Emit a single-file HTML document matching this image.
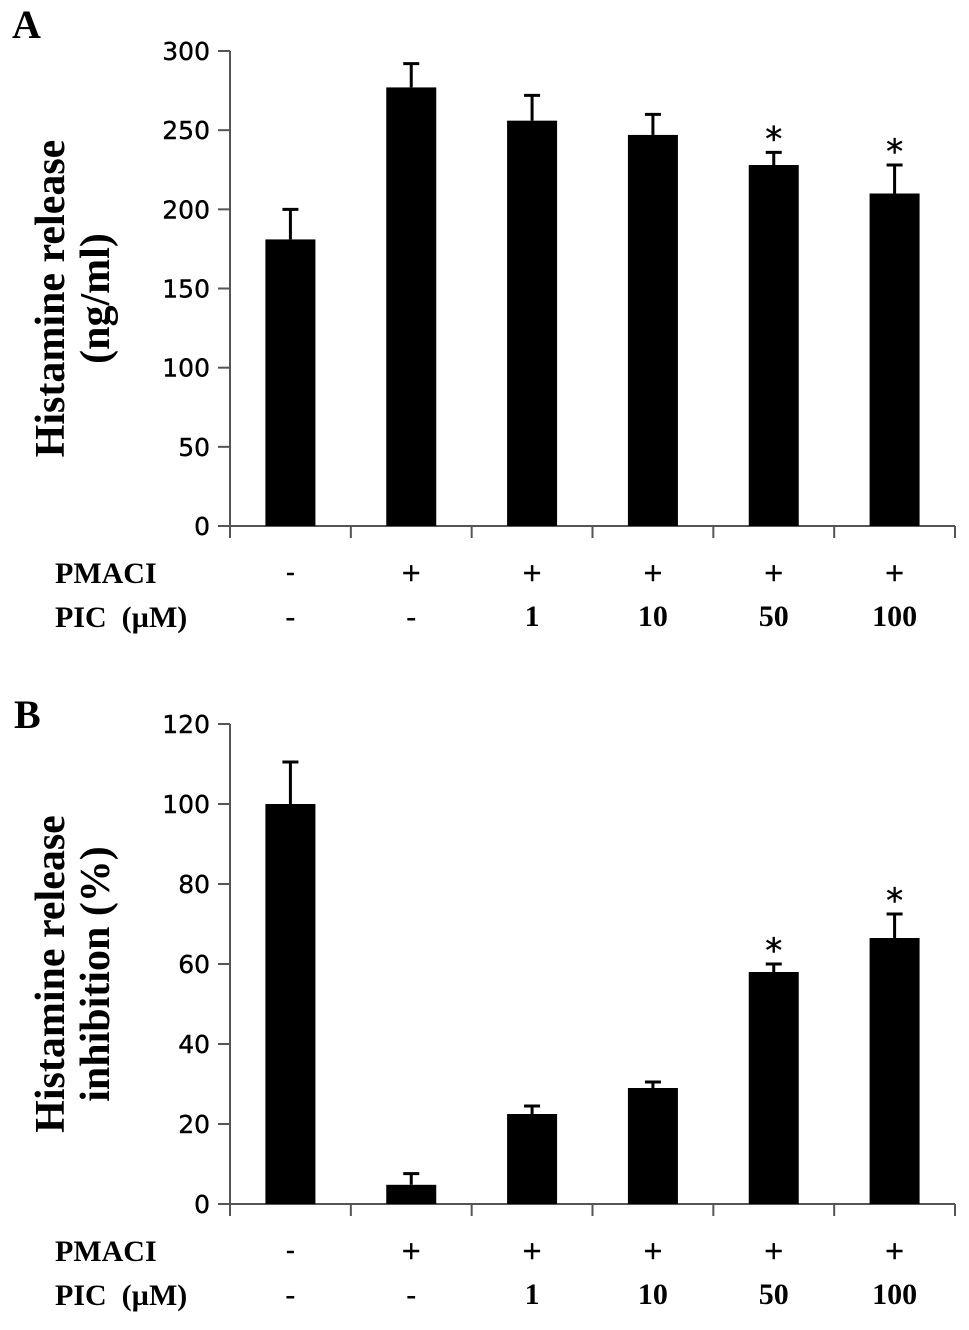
<!DOCTYPE html>
<html><head><meta charset="utf-8"><style>
body{margin:0;background:#fff}
svg text{fill:#000}
.tk{font-family:"DejaVu Sans","Liberation Sans",sans-serif;font-size:25px;font-weight:500;stroke:#000;stroke-width:0.4}
.ti{font-family:"Liberation Serif",serif;font-weight:bold;font-size:42px}
.lb{font-family:"Liberation Serif",serif;font-weight:bold;font-size:30px}
.pl{font-family:"Liberation Serif",serif;font-weight:bold;font-size:40px}
</style></head><body>
<svg id="fig" width="969" height="1325" viewBox="0 0 969 1325" xmlns="http://www.w3.org/2000/svg">
<text class="pl" x="12" y="38">A</text>
<text class="pl" x="14" y="728">B</text>
</svg>
<script>
const pmaci=["-","+","+","+","+","+"];
const pic=["-","-","1","10","50","100"];
const valsA=[181,277,256,247,228,210];
const errA=[19,15,16,13,8,18];
const ticksA=[0,50,100,150,200,250,300];
const sigA=[false,false,false,false,true,true];
const valsB=[100,4.8,22.5,29,58,66.5];
const errB=[10.5,2.8,2,1.5,2,6];
const ticksB=[0,20,40,60,80,100,120];
const sigB=[false,false,false,false,true,true];

const svg=document.getElementById('fig');
const NS="http://www.w3.org/2000/svg";
function mk(t,a,p){const e=document.createElementNS(NS,t);for(const k in a)e.setAttribute(k,a[k]);(p||svg).appendChild(e);return e;}

function chart(id,vals,errs,ticks,sig,y0,yTop,title){
  const g=mk('g',{});
  
  
  const x0=230,x1=955,n=vals.length,step=(x1-x0)/n,max=ticks[ticks.length-1];
  const ys=v=>y0-(v/max)*(y0-yTop);
  const xc=i=>x0+step*(i+0.5);
  const ax=mk('line',{x1:x0,y1:yTop,x2:x0,y2:y0+12,stroke:'#555','stroke-width':2},g);
  
  
  const bx=mk('line',{x1:x0-12,y1:y0,x2:x1,y2:y0,stroke:'#555','stroke-width':2},g);
  
  
  ticks.forEach(t=>{
    mk('line',{x1:x0-12,y1:ys(t),x2:x0,y2:ys(t),stroke:'#555','stroke-width':2},g);
    const tx=mk('text',{x:x0-20,y:ys(t)+9,'text-anchor':'end',class:'tk'},g);
    tx.textContent=t;
    
    
  });
  for(let i=1;i<=n;i++)mk('line',{x1:x0+step*i,y1:y0,x2:x0+step*i,y2:y0+12,stroke:'#555','stroke-width':2},g);
  vals.forEach((v,i)=>{
    const c=xc(i),top=ys(v),et=ys(v+errs[i]);
    const e=mk('path',{d:`M${c} ${top}V${et}M${c-8} ${et}H${c+8}`,stroke:'#000','stroke-width':3,fill:'none'},g);
    
    
    const r=mk('rect',{x:c-25,y:top,width:50,height:y0-top,fill:'#000'},g);
    
    
    if(sig[i]){const s=mk('text',{x:c,y:et-2,'text-anchor':'middle',class:'tk',style:'font-size:34px'},g);s.textContent='*';
      
      }
    const a=mk('text',{x:c,y:y0+55,'text-anchor':'middle',class:'tk'},g);a.textContent=pmaci[i];
    
    
    const b=mk('text',{x:c,y:y0+100,'text-anchor':'middle',class:'lb'},g);b.textContent=pic[i];
    
    
  });
  const l1=mk('text',{x:55,y:y0+57,class:'lb'},g);l1.textContent='PMACI';
  
  
  const l2=mk('text',{x:55,y:y0+101,class:'lb'},g);l2.textContent='PIC \u00a0(\u00b5M)';
  
  
  const cy=(y0+yTop)/2+10;
  title.forEach((t,k)=>{
    const tt=mk('text',{x:0,y:0,'text-anchor':'middle',class:'ti',transform:`translate(${64+k*45},${cy}) rotate(-90)`},g);
    tt.textContent=t;
    
    
  });
}
chart('chart-a',valsA,errA,ticksA,sigA,526,51,['Histamine release','(ng/ml)']);
chart('chart-b',valsB,errB,ticksB,sigB,1204,724,['Histamine release','inhibition (%)']);
</script>
</body></html>
